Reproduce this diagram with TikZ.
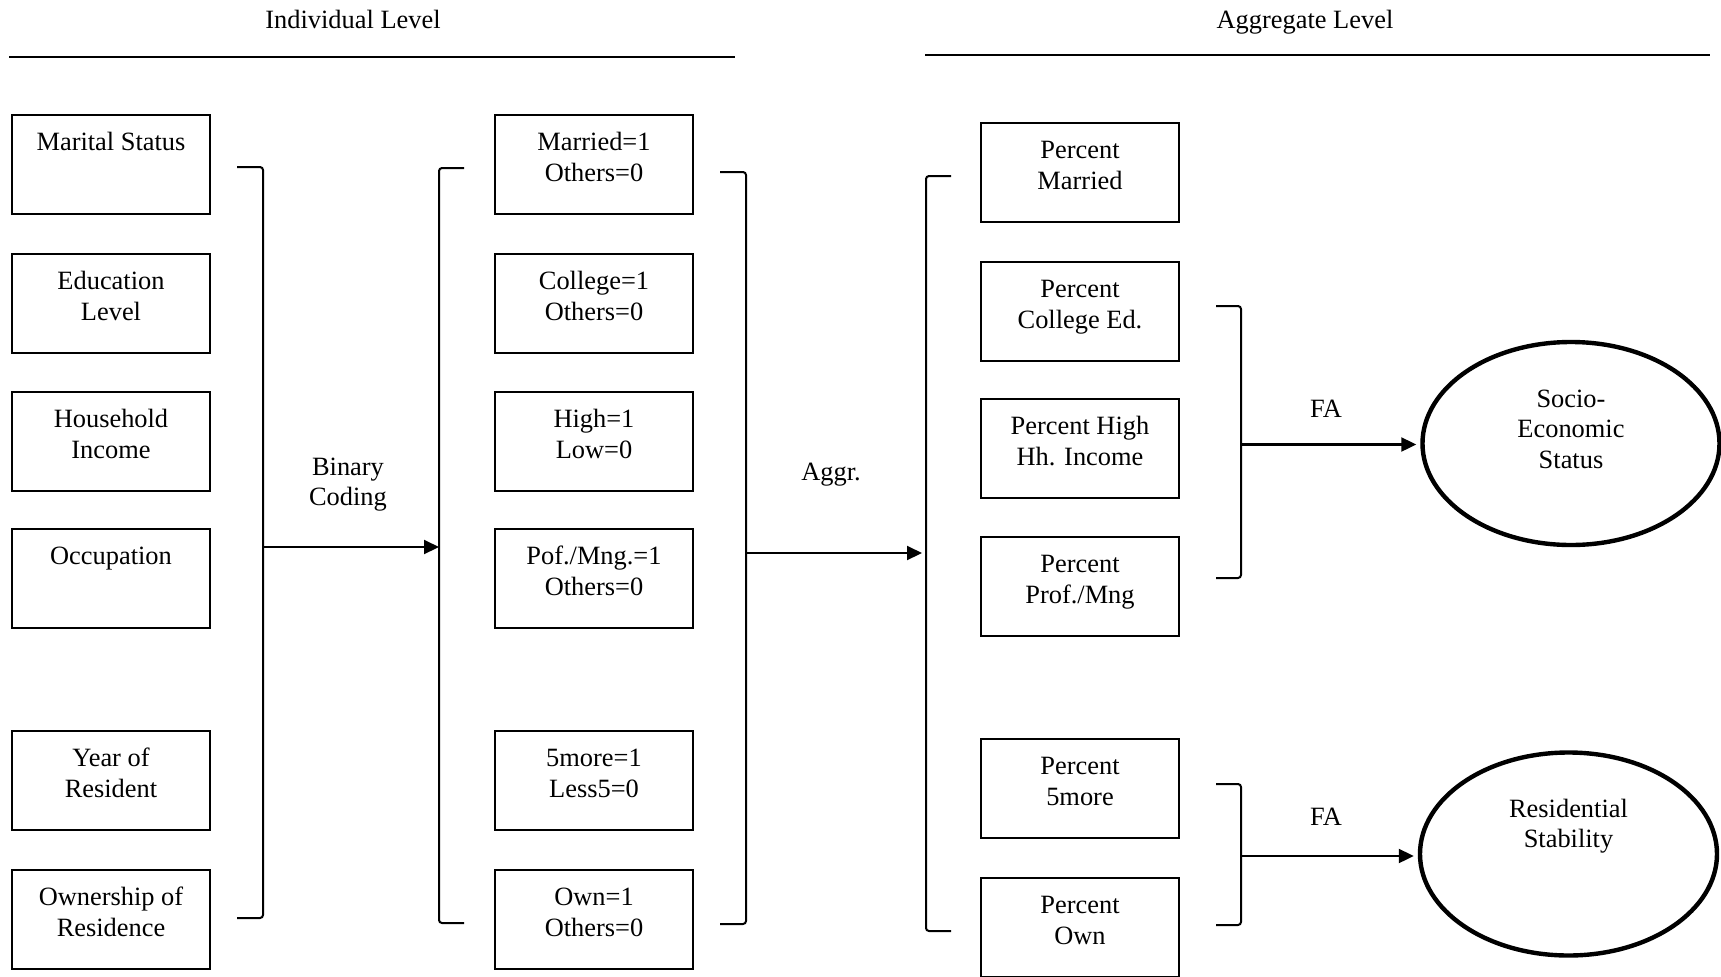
\documentclass[tikz,border=0pt]{standalone}
\usepackage{fontspec}
\setmainfont{Liberation Serif}
\usetikzlibrary{shapes.geometric,arrows.meta}
\newcommand\fsz{\fontsize{13.2}{15.4}\selectfont}
\newcommand\bt[1]{\parbox[c][49.5pt][t]{98pt}{\centering\rule{0pt}{17.8pt}#1}}
\newcommand\etxt[2]{\parbox[c][60pt][t]{60pt}{\centering\rule{0pt}{#1}#2}}
\newcommand\tl[1]{\begin{tabular}[t]{@{}c@{}}#1\end{tabular}}
\begin{document}
\begin{tikzpicture}[x=0.5pt,y=-0.5pt,
  box/.style={draw, line width=1pt, anchor=north west, inner sep=0pt,
    minimum width=99pt, minimum height=49.5pt, font=\fsz},
  lat/.style={draw, ellipse, line width=2.2pt, inner sep=0pt,
    minimum width=148.5pt, minimum height=101.5pt, font=\fsz},
  brk/.style={line width=1pt, rounded corners=1.5pt},
  hline/.style={line width=1.3pt},
  arr/.style={line width=1.05pt, -{Triangle[length=7.5pt,width=7pt]}},
  lbl/.style={font=\fsz, inner sep=0pt, anchor=base}]
\useasboundingbox (0,0) rectangle (1721,976);

% headers
\node[lbl] (hI) at (353,28) {Individual Level};
\node[lbl] (hA) at (1305,28) {Aggregate Level};
\coordinate (l1a) at (9,57);   \coordinate (l1b) at (735,57);
\coordinate (l2a) at (925,55); \coordinate (l2b) at (1710,55);
\draw[hline] (l1a) -- (l1b);
\draw[hline] (l2a) -- (l2b);

% column 1
\node[box] (c1a) at (11,114) {\bt{Marital Status}};
\node[box] (c1b) at (11,253) {\bt{Education\\Level}};
\node[box] (c1c) at (11,391) {\bt{Household\\Income}};
\node[box] (c1d) at (11,528) {\bt{Occupation}};
\node[box] (c1e) at (11,730) {\bt{Year of\\Resident}};
\node[box] (c1f) at (11,869) {\bt{Ownership of\\Residence}};

% column 2
\node[box] (c2a) at (494,114) {\bt{Married=1\\Others=0}};
\node[box] (c2b) at (494,253) {\bt{College=1\\Others=0}};
\node[box] (c2c) at (494,391) {\bt{High=1\\Low=0}};
\node[box] (c2d) at (494,528) {\bt{Pof./Mng.=1\\Others=0}};
\node[box] (c2e) at (494,730) {\bt{5more=1\\Less5=0}};
\node[box] (c2f) at (494,869) {\bt{Own=1\\Others=0}};

% column 3
\node[box] (c3a) at (980,122) {\bt{Percent\\Married}};
\node[box] (c3b) at (980,261) {\bt{Percent\\College Ed.}};
\node[box] (c3c) at (980,398) {\bt{Percent High\\Hh. Income}};
\node[box] (c3d) at (980,536) {\bt{Percent\\Prof./Mng}};
\node[box] (c3e) at (980,738) {\bt{Percent\\5more}};
\node[box] (c3f) at (980,877) {\bt{Percent\\Own}};

% latent ellipses
\node[lat] (ses) at (1571,443.5) {\etxt{11.75pt}{Socio-\\Economic\\Status}};
\node[lat] (rst) at (1568.5,854) {\etxt{11.5pt}{Residential\\Stability}};

% brackets
\coordinate (b1t) at (237,167); \coordinate (b1b) at (237,918);
\coordinate (b1m) at (263,547);
\draw[brk] (b1t) -| (b1m) |- (b1b);
\coordinate (b2t) at (464,168); \coordinate (b2b) at (464,923);
\coordinate (b2m) at (439,547);
\draw[brk] (b2t) -| (b2m) |- (b2b);
\coordinate (b3t) at (720,172); \coordinate (b3b) at (720,924);
\coordinate (b3m) at (746,553);
\draw[brk] (b3t) -| (b3m) |- (b3b);
\coordinate (b4t) at (951,176); \coordinate (b4b) at (951,931);
\coordinate (b4m) at (926,553);
\draw[brk] (b4t) -| (b4m) |- (b4b);
\coordinate (b5t) at (1216,306); \coordinate (b5b) at (1216,578);
\coordinate (b5m) at (1241,444.5);
\draw[brk] (b5t) -| (b5m) |- (b5b);
\coordinate (b6t) at (1216,784); \coordinate (b6b) at (1216,925);
\coordinate (b6m) at (1241,856);
\draw[brk] (b6t) -| (b6m) |- (b6b);

% arrows
\draw[arr] (b1m) -- (b2m);
\draw[arr, shorten >=2pt] (b3m) -- (b4m);
\draw[arr, shorten >=2pt] (b5m) -- (ses.west |- b5m);
\draw[arr, shorten >=2pt] (b6m) -- (rst.west |- b6m);

% labels
\node[lbl] (lbin) at (348,475) {\tl{Binary\\Coding}};
\node[lbl] (lagg) at (831,480.5) {Aggr.};
\node[lbl] (lfa1) at (1326,417.5) {FA};
\node[lbl] (lfa2) at (1326,825) {FA};
\end{tikzpicture}
\end{document}
